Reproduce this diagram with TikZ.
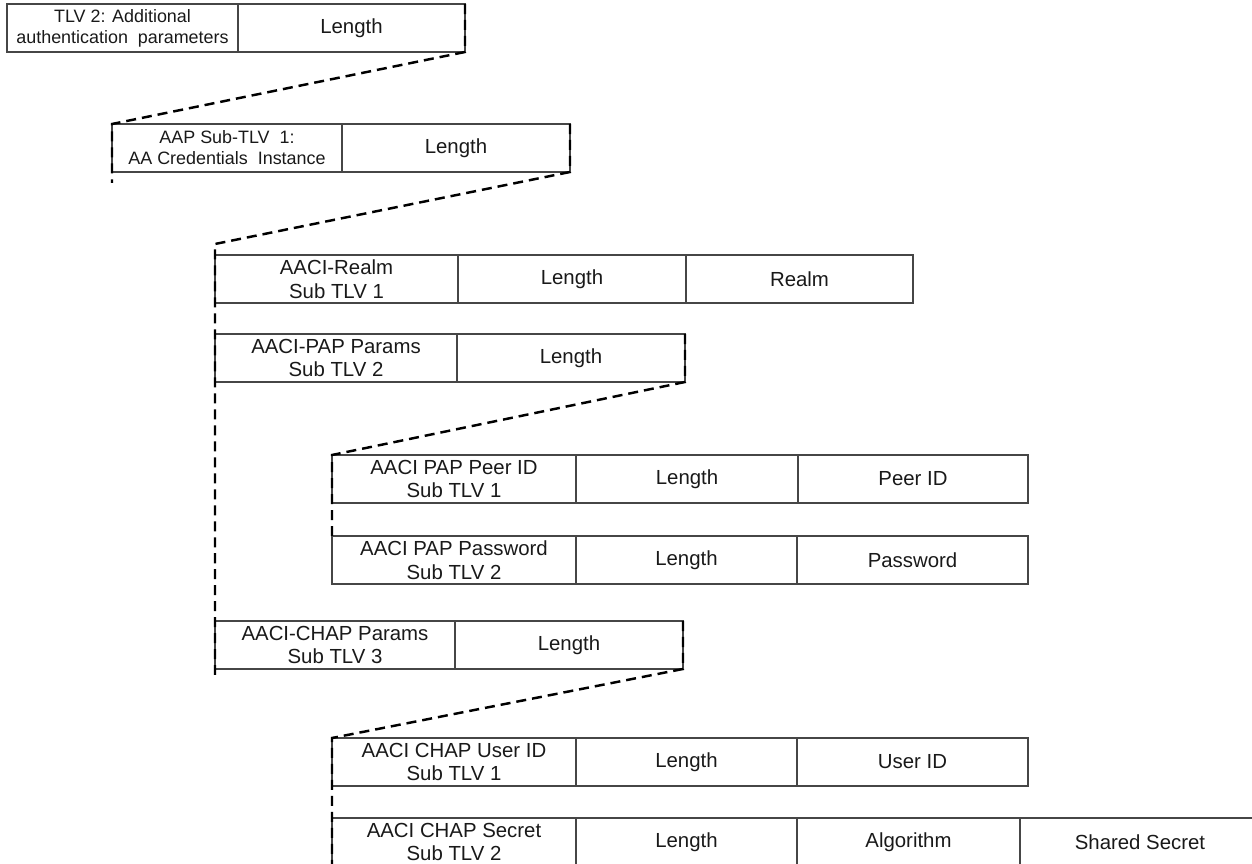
\documentclass[tikz,border=0pt]{standalone}
\usepackage{fontspec}
\setmainfont{Liberation Sans}
\usepackage{tikz}
\usetikzlibrary{positioning, calc}
\definecolor{cellline}{RGB}{70,70,70}
\definecolor{celltext}{RGB}{25,25,25}
\newdimen\pxu \pxu=0.02cm
\tikzset{
  cell/.style={rectangle, draw=cellline, line width=0.85pt, text=celltext,
    minimum height=48\pxu, inner sep=0pt, outer sep=0pt, align=center,
    font=\fontsize{11.6}{13.4}\selectfont},
  smallcell/.style={cell, font=\fontsize{10.2}{12}\selectfont},
  zoomline/.style={draw=black, line width=1.4pt, dash pattern=on 5.7pt off 3.4pt},
}
\begin{document}
\begin{tikzpicture}[x=0.02cm, y=-0.02cm]
  \useasboundingbox (0,0) rectangle (1252,864);
  % TLV 2
  \node[smallcell, minimum width=231\pxu, anchor=north west] (tlv) at (7,4) {TLV 2: Additional\\authentication\ \ parameters};
  \node[cell, minimum width=227\pxu, right=0pt of tlv] (tlvlen) {Length};
  % AAP sub-TLV
  \node[smallcell, minimum width=230\pxu, anchor=north west] (aap) at (112,124) {AAP Sub-TLV\ \ 1:\\AA Credentials\ \ Instance};
  \node[cell, minimum width=228\pxu, right=0pt of aap] (aaplen) {Length};
  % AACI sub-TLVs
  \node[cell, minimum width=243\pxu, anchor=north west] (realm) at (215,255) {AACI-Realm\\Sub TLV 1};
  \node[cell, minimum width=228\pxu, right=0pt of realm] (realmlen) {Length};
  \node[cell, minimum width=227\pxu, right=0pt of realmlen] (realmval) {Realm};
  \node[cell, minimum width=242\pxu, anchor=north west] (pap) at (215,334) {AACI-PAP Params\\Sub TLV 2};
  \node[cell, minimum width=228\pxu, right=0pt of pap] (paplen) {Length};
  \node[cell, minimum width=240\pxu, anchor=north west] (chap) at (215,621) {AACI-CHAP Params\\Sub TLV 3};
  \node[cell, minimum width=228\pxu, right=0pt of chap] (chaplen) {Length};
  % PAP
  \node[cell, minimum width=244\pxu, anchor=north west] (peer) at (332,455) {AACI PAP Peer ID\\Sub TLV 1};
  \node[cell, minimum width=222\pxu, right=0pt of peer] (peerlen) {Length};
  \node[cell, minimum width=230\pxu, right=0pt of peerlen] (peerval) {Peer ID};
  \node[cell, minimum width=244\pxu, anchor=north west] (pw) at (332,536) {AACI PAP Password\\Sub TLV 2};
  \node[cell, minimum width=221\pxu, right=0pt of pw] (pwlen) {Length};
  \node[cell, minimum width=231\pxu, right=0pt of pwlen] (pwval) {Password};
  % CHAP
  \node[cell, minimum width=244\pxu, anchor=north west] (user) at (332,738) {AACI CHAP User ID\\Sub TLV 1};
  \node[cell, minimum width=221\pxu, right=0pt of user] (userlen) {Length};
  \node[cell, minimum width=231\pxu, right=0pt of userlen] (userval) {User ID};
  \node[cell, minimum width=244\pxu, anchor=north west] (secret) at (332,818) {AACI CHAP Secret\\Sub TLV 2};
  \node[cell, minimum width=221\pxu, right=0pt of secret] (secretlen) {Length};
  \node[cell, minimum width=223\pxu, right=0pt of secretlen] (algo) {Algorithm};
  \node[cell, minimum width=240\pxu, right=0pt of algo] (shared) {Shared Secret};

  % expansion lines
  \coordinate (aapend) at ($(aap.south west)+(0,11)$);
  \coordinate (subtop) at ($(realm.north west)+(0,-11)$);
  \coordinate (subend) at ($(chap.south west)+(0,6)$);
  \draw[zoomline] (tlvlen.north east) -- (tlvlen.south east) -- (aap.north west) -- (aapend);
  \draw[zoomline] (aaplen.north east) -- (aaplen.south east) -- (subtop) -- (subend);
  \draw[zoomline] (paplen.north east) -- (paplen.south east) -- (peer.north west) -- (pw.north west);
  \draw[zoomline] (chaplen.north east) -- (chaplen.south east) -- (user.north west) -- (secret.south west);
\end{tikzpicture}
\end{document}
